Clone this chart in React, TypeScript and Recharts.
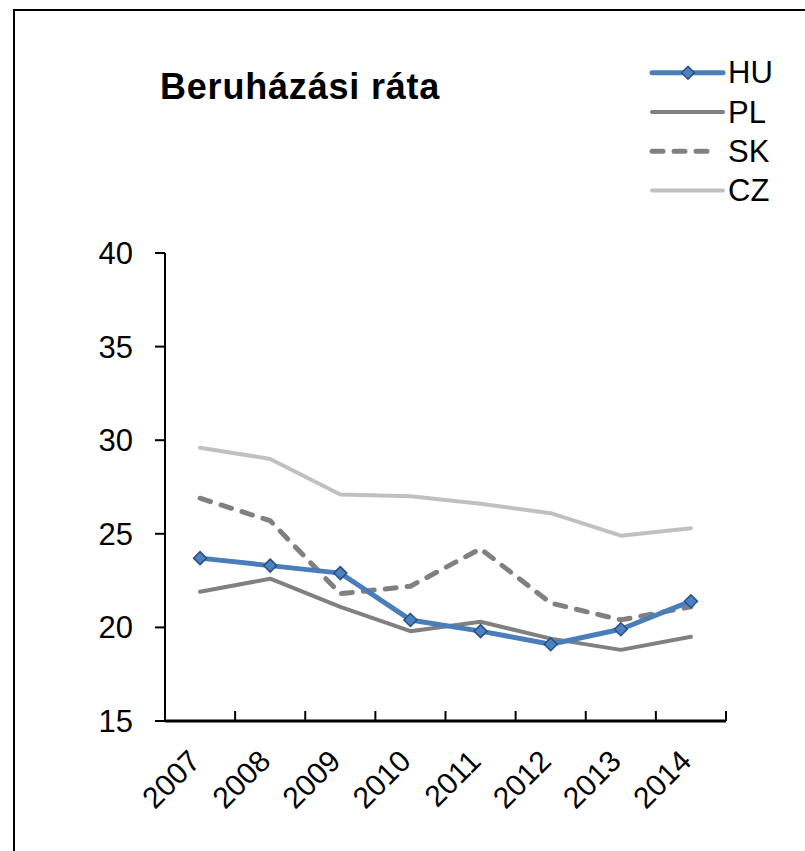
import React from "react";
import { Legend, Line, LineChart, XAxis, YAxis } from "recharts";

const YEARS = ["2007", "2008", "2009", "2010", "2011", "2012", "2013", "2014"];
const HU = [23.7, 23.3, 22.9, 20.4, 19.8, 19.1, 19.9, 21.4];
const PL = [21.9, 22.6, 21.1, 19.8, 20.3, 19.4, 18.8, 19.5];
const SK = [26.9, 25.7, 21.8, 22.2, 24.2, 21.3, 20.4, 21.1];
const CZ = [29.6, 29.0, 27.1, 27.0, 26.6, 26.1, 24.9, 25.3];
const Y_TICKS = [15, 20, 25, 30, 35, 40];

const data = YEARS.map((year, i) => ({
  year,
  HU: HU[i],
  PL: PL[i],
  SK: SK[i],
  CZ: CZ[i],
}));

const FONT = "'Liberation Sans', Arial, sans-serif";
const W = 805;
const H = 851;
const PLOT_LEFT = 165;
const PLOT_RIGHT = 726;
const PLOT_TOP = 253;
const PLOT_BOTTOM = 721;
const HALF = (PLOT_RIGHT - PLOT_LEFT) / YEARS.length / 2;

const BLUE = "#4a7ebb";
const DASH = "11 11";

const Diamond = ({ cx, cy }: any) => {
  if (cx == null || cy == null) return null;
  const r = 6.5;
  return (
    <polygon
      points={`${cx},${cy - r} ${cx + r},${cy} ${cx},${cy + r} ${cx - r},${cy}`}
      fill="#4f81bd"
      stroke="#24508c"
      strokeWidth={1.5}
    />
  );
};

// tick marks sit between categories, labels at the category centre
const YearTick = ({ x, y, payload, index }: any) => {
  const tx = x + 2;
  const ty = y + 42;
  return (
    <g>
      <line x1={x - HALF} x2={x - HALF} y1={y} y2={y - 10} stroke="#000" strokeWidth={2} />
      {index === YEARS.length - 1 && (
        <line x1={x + HALF} x2={x + HALF} y1={y} y2={y - 10} stroke="#000" strokeWidth={2} />
      )}
      <text
        x={tx}
        y={ty}
        textAnchor="end"
        transform={`rotate(-45 ${tx} ${ty})`}
        fontSize={30}
        fontFamily={FONT}
        fill="#000"
      >
        {payload.value}
      </text>
    </g>
  );
};

const legendRows = [
  { name: "HU", color: BLUE, width: 5, dash: undefined, marker: true },
  { name: "PL", color: "#808080", width: 4, dash: undefined, marker: false },
  { name: "SK", color: "#808080", width: 5, dash: DASH, marker: false },
  { name: "CZ", color: "#c0c0c0", width: 4, dash: undefined, marker: false },
];

const renderLegend = () => (
  <svg width={160} height={170}>
    {legendRows.map((row, i) => {
      const cy = 22.7 + i * 39.3;
      return (
        <g key={row.name}>
          <line
            x1={7}
            x2={row.dash ? 68 : 78}
            y1={cy}
            y2={cy}
            stroke={row.color}
            strokeWidth={row.width}
            strokeDasharray={row.dash}
            strokeLinecap="round"
          />
          {row.marker && <Diamond cx={43} cy={cy} />}
          <text
            x={83}
            y={cy}
            dominantBaseline="central"
            fontSize={31}
            fontFamily={FONT}
            fill="#000"
          >
            {row.name}
          </text>
        </g>
      );
    })}
  </svg>
);

export default function App() {
  return (
    <div
      style={{
        position: "absolute",
        left: 0,
        top: 0,
        width: W,
        height: H,
        overflow: "hidden",
        background: "#fff",
      }}
    >
      <div
        style={{
          position: "absolute",
          left: 13,
          top: 9,
          width: 1000,
          height: 1000,
          borderLeft: "2px solid #000",
          borderTop: "2px solid #000",
        }}
      />
      <div
        style={{
          position: "absolute",
          left: 160,
          top: 69,
          fontFamily: FONT,
          fontWeight: "bold",
          fontSize: 36,
          lineHeight: "36px",
          letterSpacing: 0.8,
          whiteSpace: "nowrap",
          color: "#000",
        }}
      >
        Beruházási ráta
      </div>
      <LineChart
        width={W}
        height={H}
        data={data}
        margin={{ top: PLOT_TOP, right: W - PLOT_RIGHT, bottom: 0, left: 0 }}
        style={{ fontFamily: FONT }}
      >
        <XAxis
          dataKey="year"
          height={H - PLOT_BOTTOM}
          padding={{ left: HALF, right: HALF }}
          interval={0}
          tickLine={false}
          tickSize={0}
          tickMargin={0}
          axisLine={{ stroke: "#000", strokeWidth: 3 }}
          tick={<YearTick />}
        />
        <YAxis
          width={PLOT_LEFT}
          domain={[15, 40]}
          ticks={Y_TICKS}
          interval={0}
          tickSize={10}
          tickMargin={22}
          axisLine={{ stroke: "#000", strokeWidth: 2 }}
          tickLine={{ stroke: "#000", strokeWidth: 2 }}
          tick={{ fill: "#000", fontSize: 31, fontFamily: FONT }}
        />
        <Legend
          layout="vertical"
          align="center"
          verticalAlign="middle"
          content={renderLegend}
          wrapperStyle={{ left: 645, top: 50, width: 160, height: 170 }}
        />
        <Line
          dataKey="PL"
          stroke="#808080"
          strokeWidth={4}
          strokeLinejoin="round"
          strokeLinecap="round"
          dot={false}
          activeDot={false}
          isAnimationActive={false}
        />
        <Line
          dataKey="SK"
          stroke="#808080"
          strokeWidth={5}
          strokeDasharray={DASH}
          strokeLinejoin="round"
          strokeLinecap="round"
          dot={false}
          activeDot={false}
          isAnimationActive={false}
        />
        <Line
          dataKey="CZ"
          stroke="#c0c0c0"
          strokeWidth={4}
          strokeLinejoin="round"
          strokeLinecap="round"
          dot={false}
          activeDot={false}
          isAnimationActive={false}
        />
        <Line
          dataKey="HU"
          stroke={BLUE}
          strokeWidth={5}
          strokeLinejoin="round"
          strokeLinecap="round"
          dot={<Diamond />}
          activeDot={false}
          isAnimationActive={false}
        />
      </LineChart>
    </div>
  );
}
